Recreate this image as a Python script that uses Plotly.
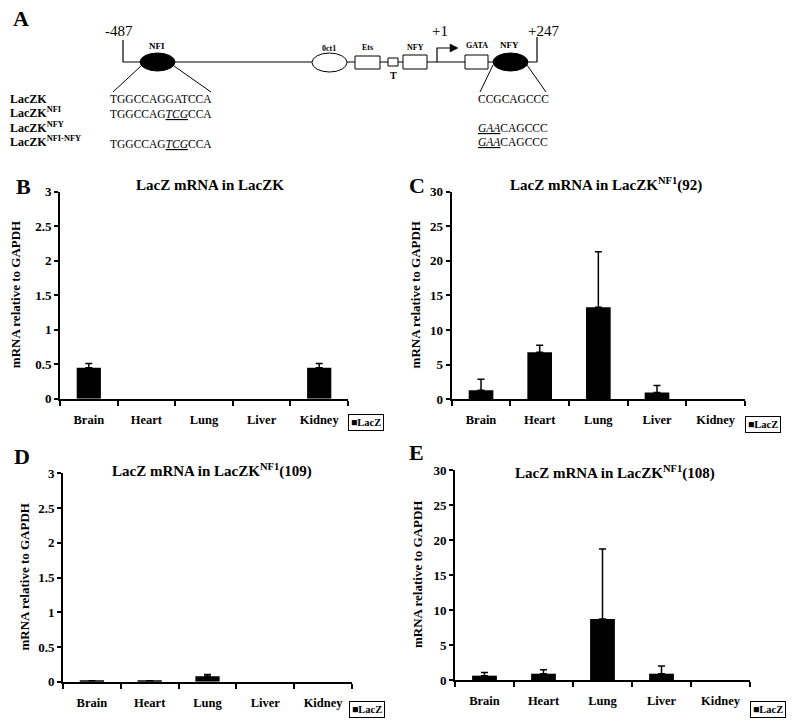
import plotly.graph_objects as go

# ---------------- data ----------------
categories = ["Brain", "Heart", "Lung", "Liver", "Kidney"]
lacz_b = [0.45, 0, 0, 0, 0.45]
err_b = [0.06, 0, 0, 0, 0.06]
lacz_c = [1.3, 6.8, 13.3, 1.0, 0]
err_c = [1.6, 1.0, 8.0, 1.0, 0]
lacz_d = [0.015, 0.015, 0.08, 0, 0]
err_d = [0, 0, 0.025, 0, 0]
lacz_e = [0.62, 0.9, 8.7, 0.9, 0]
err_e = [0.45, 0.57, 10.0, 1.1, 0]
yticks_small = [0, 0.5, 1, 1.5, 2, 2.5, 3]
yticks_large = [0, 5, 10, 15, 20, 25, 30]
titles = ["LacZ mRNA in LacZK",
          "LacZ mRNA in LacZK<sup>NF1</sup>(92)",
          "LacZ mRNA in LacZK<sup>NF1</sup>(109)",
          "LacZ mRNA in LacZK<sup>NF1</sup>(108)"]
letters = ["B", "C", "D", "E"]
ytitle = "mRNA relative to GAPDH"
legend_text = "■LacZ"

W, H = 800, 726
SERIF = "Liberation Serif"


def X(p):
    return p / W


def Y(p):
    return 1 - p / H


panels = [
    dict(vals=lacz_b, errs=err_b, xd=(60, 348), yd=(191.7, 398.7), ticks=yticks_small,
         title=titles[0], tpos=(210, 185), letter=letters[0], lpos=(23, 186), ytx=15, leg=(366, 423)),
    dict(vals=lacz_c, errs=err_c, xd=(451.7, 745), yd=(191.6, 399.3), ticks=yticks_large,
         title=titles[1], tpos=(606, 184), letter=letters[1], lpos=(417, 185), ytx=415, leg=(763, 424)),
    dict(vals=lacz_d, errs=err_d, xd=(63, 352), yd=(473.3, 681.7), ticks=yticks_small,
         title=titles[2], tpos=(212, 470), letter=letters[2], lpos=(22, 456), ytx=24, leg=(367, 709)),
    dict(vals=lacz_e, errs=err_e, xd=(455, 750), yd=(470, 680), ticks=yticks_large,
         title=titles[3], tpos=(615, 472), letter=letters[3], lpos=(416, 452), ytx=417, leg=(768, 709)),
]

fig = go.Figure()
annotations = []
shapes = []
layout_axes = {}

for i, p in enumerate(panels):
    n = "" if i == 0 else str(i + 1)
    yv = [v if v > 0 else None for v in p["vals"]]
    fig.add_trace(go.Bar(
        x=categories, y=yv, xaxis="x" + n, yaxis="y" + n,
        marker=dict(color="black", line=dict(width=0)),
        error_y=dict(type="data", array=p["errs"], arrayminus=[0] * len(p["errs"]),
                     symmetric=False, color="black", thickness=1.5, width=3.5),
        showlegend=False, name="LacZ"))
    layout_axes["xaxis" + n] = dict(
        domain=[X(p["xd"][0]), X(p["xd"][1])], anchor="y" + n, type="category",
        range=[-0.5, 4.5], tickson="boundaries", ticks="outside", ticklen=5, tickwidth=1.5,
        tickcolor="black", showline=True, linewidth=2, linecolor="black", showgrid=False,
        tickfont=dict(family=SERIF, size=12.5, color="black", weight="bold"),
        ticklabelstandoff=8, fixedrange=True)
    layout_axes["yaxis" + n] = dict(
        domain=[Y(p["yd"][1]), Y(p["yd"][0])], anchor="x" + n,
        range=[p["ticks"][0], p["ticks"][-1]], tickvals=p["ticks"],
        ticks="outside", ticklen=4, tickwidth=1.5, tickcolor="black",
        showline=True, linewidth=2, linecolor="black", showgrid=False, zeroline=False,
        tickfont=dict(family=SERIF, size=13, color="black", weight="bold"), fixedrange=True)
    annotations.append(dict(x=X(p["tpos"][0]), y=Y(p["tpos"][1]), xref="paper", yref="paper",
                            text=p["title"], showarrow=False, xanchor="center", yanchor="middle",
                            font=dict(family=SERIF, size=15, color="black", weight="bold")))
    annotations.append(dict(x=X(p["lpos"][0]), y=Y(p["lpos"][1]), xref="paper", yref="paper",
                            text=p["letter"], showarrow=False, xanchor="center", yanchor="middle",
                            font=dict(family=SERIF, size=22, color="black", weight="bold")))
    ymid = (p["yd"][0] + p["yd"][1]) / 2
    annotations.append(dict(x=X(p["ytx"]), y=Y(ymid), xref="paper", yref="paper",
                            text=ytitle, showarrow=False, textangle=-90,
                            xanchor="center", yanchor="middle",
                            font=dict(family=SERIF, size=13, color="black", weight="bold")))
    annotations.append(dict(x=X(p["leg"][0]), y=Y(p["leg"][1]), xref="paper", yref="paper",
                            text=legend_text, showarrow=False, xanchor="center", yanchor="middle",
                            bordercolor="black", borderwidth=1, borderpad=2, bgcolor="white",
                            font=dict(family=SERIF, size=10.5, color="black", weight="bold")))


# ---------------- panel A schematic ----------------
def line(x0, y0, x1, y1, w=1.2):
    shapes.append(dict(type="line", xref="paper", yref="paper", x0=X(x0), y0=Y(y0),
                       x1=X(x1), y1=Y(y1), line=dict(color="black", width=w)))


def rect(x0, y0, x1, y1):
    shapes.append(dict(type="rect", xref="paper", yref="paper", x0=X(x0), y0=Y(y1),
                       x1=X(x1), y1=Y(y0), line=dict(color="black", width=1), fillcolor="white"))


def ell(x0, y0, x1, y1, filled):
    shapes.append(dict(type="circle", xref="paper", yref="paper", x0=X(x0), y0=Y(y1),
                       x1=X(x1), y1=Y(y0), line=dict(color="black", width=1),
                       fillcolor="black" if filled else "white"))


def txt(x, y, s, size, bold=False, anchor="center"):
    annotations.append(dict(x=X(x), y=Y(y), xref="paper", yref="paper", text=s,
                            showarrow=False, xanchor=anchor, yanchor="middle",
                            font=dict(family=SERIF, size=size, color="black",
                                      weight="bold" if bold else "normal")))


line(123, 40, 123, 62)
line(123, 62, 537, 62)
line(537, 37, 537, 62)
line(141, 66, 113, 92, 1)
line(174, 66, 211, 92, 1)
line(493, 65, 480, 92, 1)
line(527, 65, 546, 92, 1)
ell(140, 53, 175, 71, True)
ell(312, 53, 347, 72, False)
rect(355, 56, 380, 69)
rect(388, 58, 398, 66)
rect(403, 55, 427, 69)
rect(465, 55, 488, 69)
ell(493, 53, 528, 71, True)
shapes.append(dict(type="path", xref="paper", yref="paper",
                   path=f"M {X(437)} {Y(62)} L {X(437)} {Y(48)} L {X(452)} {Y(48)}",
                   line=dict(color="black", width=1.2)))
shapes.append(dict(type="path", xref="paper", yref="paper",
                   path=f"M {X(450)} {Y(44)} L {X(458)} {Y(48)} L {X(450)} {Y(52)} Z",
                   line=dict(color="black", width=0.5), fillcolor="black"))

txt(21, 19, "A", 22, True)
txt(119, 31, "-487", 15)
txt(440, 31, "+1", 15)
txt(543, 31, "+247", 15)
txt(157, 46, "NFI", 9, True)
txt(329, 48, "0ct1", 8, True)
txt(367, 47, "Ets", 8, True)
txt(415, 47, "NFY", 8, True)
txt(393, 76, "T", 10, True)
txt(477, 46, "GATA", 8, True)
txt(510, 45, "NFY", 9, True)

U = '<span style="text-decoration:underline"><i>{}</i></span>'
txt(8, 99, "LacZK", 12, True, "left")
txt(8, 113, "LacZK<sup>NFI</sup>", 12, True, "left")
txt(8, 127, "LacZK<sup>NFY</sup>", 12, True, "left")
txt(8, 142, "LacZK<sup>NFI-NFY</sup>", 12, True, "left")
txt(108, 99, "TGGCCAGGATCCA", 11.5, False, "left")
txt(108, 114, "TGGCCAG" + U.format("TCG") + "CCA", 11.5, False, "left")
txt(108, 144, "TGGCCAG" + U.format("TCG") + "CCA", 11.5, False, "left")
txt(476, 99, "CCGCAGCCC", 11.5, False, "left")
txt(476, 128, U.format("GAA") + "CAGCCC", 11.5, False, "left")
txt(476, 142, U.format("GAA") + "CAGCCC", 11.5, False, "left")

fig.update_layout(width=W, height=H, margin=dict(l=0, r=0, t=0, b=0, autoexpand=False),
                  paper_bgcolor="white", plot_bgcolor="white", bargap=0.58,
                  showlegend=False, annotations=annotations, shapes=shapes, **layout_axes)
fig.write_html("out.html", config={"displayModeBar": False},
               post_script="document.body.style.margin='0';document.body.style.overflow='hidden';")
